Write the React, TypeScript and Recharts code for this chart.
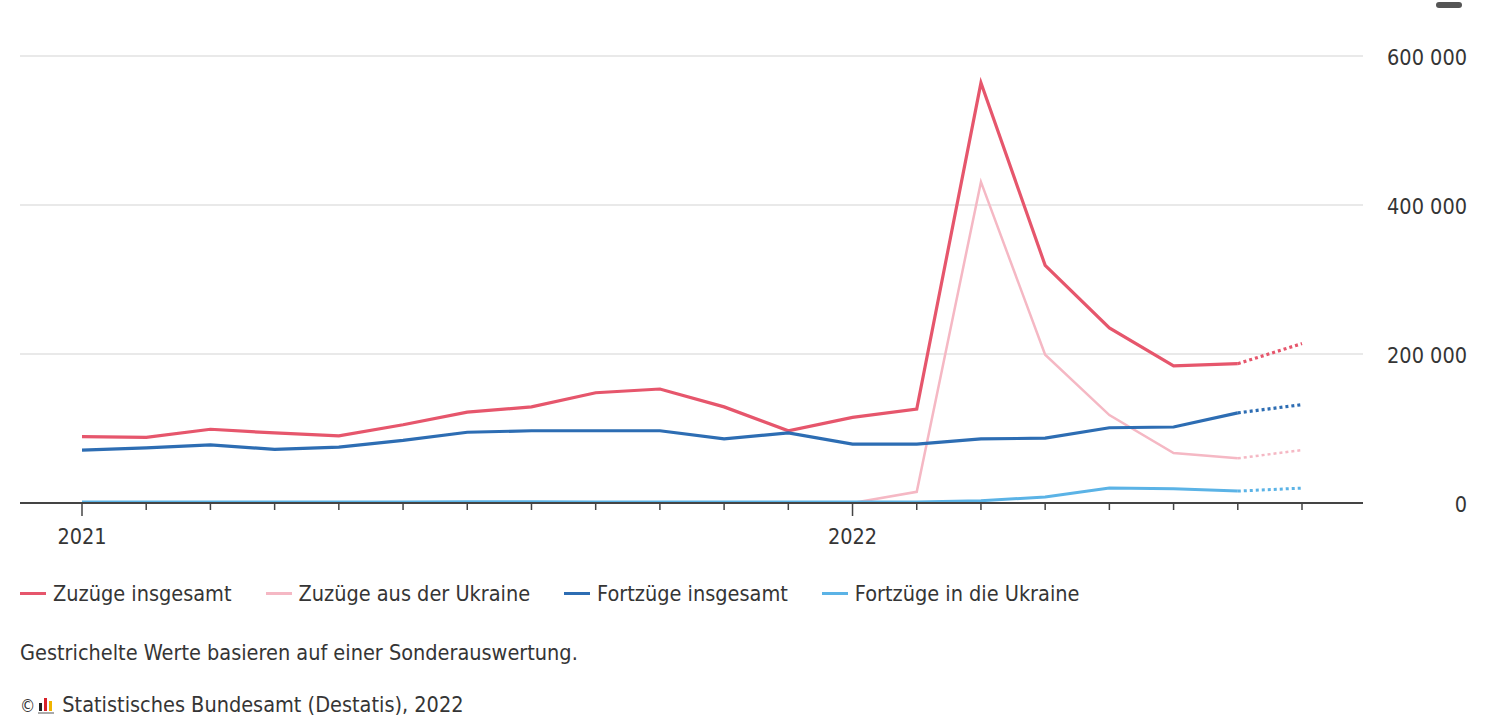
import { CartesianGrid, Line, LineChart, XAxis, YAxis } from "recharts";

// Monthly values, Jan 2021 – Aug 2022
const MONTHS = [
  "2021-01", "2021-02", "2021-03", "2021-04", "2021-05", "2021-06", "2021-07", "2021-08", "2021-09", "2021-10",
  "2021-11", "2021-12", "2022-01", "2022-02", "2022-03", "2022-04", "2022-05", "2022-06", "2022-07", "2022-08",
];

const ZUZUEGE_INSGESAMT = [
  89000, 88000, 99000, 94000, 90000, 105000, 122000, 129000, 148000, 153000,
  129000, 97000, 115000, 126000, 564000, 319000, 235000, 184000, 187000, 214000,
];
const ZUZUEGE_UKRAINE = [
  null, null, null, null, null, null, null, null, null, null,
  null, null, 0, 15000, 431000, 199000, 118000, 67000, 60000, 71000,
];
const FORTZUEGE_INSGESAMT = [
  71000, 74000, 78000, 72000, 75000, 84000, 95000, 97000, 97000, 97000,
  86000, 94000, 79000, 79000, 86000, 87000, 101000, 102000, 121000, 132000,
];
const FORTZUEGE_UKRAINE = [
  1500, 1500, 1400, 1400, 1500, 1500, 1600, 1600, 1500, 1500,
  1500, 1400, 1300, 1500, 3000, 8000, 20000, 19000, 16000, 20000,
];

// from this month on the values come from the special evaluation (dotted)
const SONDER_START = 18;
const Y_TICKS = [0, 200000, 400000, 600000];

const SERIES = [
  { key: "zi", name: "Zuzüge insgesamt", color: "#e6566c", width: 3.2, values: ZUZUEGE_INSGESAMT },
  { key: "zu", name: "Zuzüge aus der Ukraine", color: "#f5b8c4", width: 2.5, values: ZUZUEGE_UKRAINE },
  { key: "fi", name: "Fortzüge insgesamt", color: "#2d6db3", width: 3.2, values: FORTZUEGE_INSGESAMT },
  { key: "fu", name: "Fortzüge in die Ukraine", color: "#5bb3e6", width: 3, values: FORTZUEGE_UKRAINE },
];

const FONT = "'DejaVu Sans', sans-serif";
const TEXT = "#353535";

const data = MONTHS.map((month, i) => {
  const row: Record<string, string | number | null> = { month };
  SERIES.forEach((s) => {
    const v = s.values[i];
    row[s.key] = i <= SONDER_START ? v : null;
    row[s.key + "S"] = i >= SONDER_START ? v : null;
  });
  return row;
});

const fmt = (v: number) => String(v).replace(/\B(?=(\d{3})+(?!\d))/g, " ");

function MonthTick({ x, y, payload }: any) {
  const isYear = String(payload.value).endsWith("-01");
  return (
    <g>
      <line x1={x} x2={x} y1={y} y2={y + (isYear ? 13 : 7)} stroke="#444" strokeWidth={1.5} />
      {isYear && (
        <text x={x} y={y + 33} textAnchor="middle" dominantBaseline="central" fill={TEXT}
          style={{ fontFamily: FONT, fontStretch: "condensed", fontSize: 21.5 }}>
          {String(payload.value).slice(0, 4)}
        </text>
      )}
    </g>
  );
}

function ValueTick({ x, y, payload }: any) {
  return (
    <text x={x + 104} y={y + 1} textAnchor="end" dominantBaseline="central" fill={TEXT}
      style={{ fontFamily: FONT, fontStretch: "condensed", fontSize: 21.5 }}>
      {fmt(payload.value)}
    </text>
  );
}

function Logo() {
  return (
    <svg width={18} height={20} style={{ verticalAlign: "-3px", margin: "0 6px 0 3px" }}>
      <rect x={1} y={8} width={3} height={8} fill="#222" />
      <rect x={6} y={3} width={3} height={13} fill="#d8222a" />
      <rect x={11} y={6} width={3} height={10} fill="#f0b400" />
      <rect x={0} y={17} width={16} height={2} fill="#aaa" />
    </svg>
  );
}

export default function App() {
  const textStyle = { fontFamily: FONT, fontStretch: "condensed", fontSize: 21.5, color: TEXT } as const;
  return (
    <div style={{ position: "absolute", left: 0, top: 0, width: 1489, height: 717, background: "#fff", overflow: "hidden" }}>
      <div style={{ position: "absolute", left: 1436, top: 2, width: 26, height: 6, borderRadius: 3, background: "#555" }} />
      <LineChart width={1489} height={560} data={data} margin={{ top: 56, right: 0, left: 20, bottom: 17 }}>
        <CartesianGrid vertical={false} stroke="#e2e2e2" strokeWidth={1.5} />
        <XAxis
          dataKey="month"
          interval={0}
          height={40}
          padding={{ left: 62, right: 61 }}
          axisLine={{ stroke: "#444", strokeWidth: 2 }}
          tickLine={false}
          tickSize={0}
          tickMargin={0}
          tick={<MonthTick />}
        />
        <YAxis
          orientation="right"
          width={126}
          domain={[0, 600000]}
          ticks={Y_TICKS}
          axisLine={false}
          tickLine={false}
          tickSize={0}
          tickMargin={0}
          tick={<ValueTick />}
        />
        {SERIES.map((s) => (
          <Line key={s.key} dataKey={s.key} name={s.name} stroke={s.color} strokeWidth={s.width}
            dot={false} activeDot={false} isAnimationActive={false} />
        ))}
        {SERIES.map((s) => (
          <Line key={s.key + "S"} dataKey={s.key + "S"} stroke={s.color} strokeWidth={s.width}
            strokeDasharray="3 3" dot={false} activeDot={false} isAnimationActive={false} legendType="none" />
        ))}
      </LineChart>
      <div style={{ ...textStyle, position: "absolute", left: 20, top: 581, display: "flex", alignItems: "center", whiteSpace: "nowrap" }}>
        {SERIES.map((s) => (
          <span key={s.key} style={{ display: "flex", alignItems: "center", marginRight: 34 }}>
            <span style={{ display: "inline-block", width: 26, height: 3, background: s.color, marginRight: 7 }} />
            {s.name}
          </span>
        ))}
      </div>
      <div style={{ ...textStyle, position: "absolute", left: 20, top: 640, whiteSpace: "nowrap" }}>
        Gestrichelte Werte basieren auf einer Sonderauswertung.
      </div>
      <div style={{ ...textStyle, position: "absolute", left: 20, top: 692, whiteSpace: "nowrap" }}>
        <span style={{ fontSize: 17 }}>©</span>
        <Logo />
        Statistisches Bundesamt (Destatis), 2022
      </div>
    </div>
  );
}
